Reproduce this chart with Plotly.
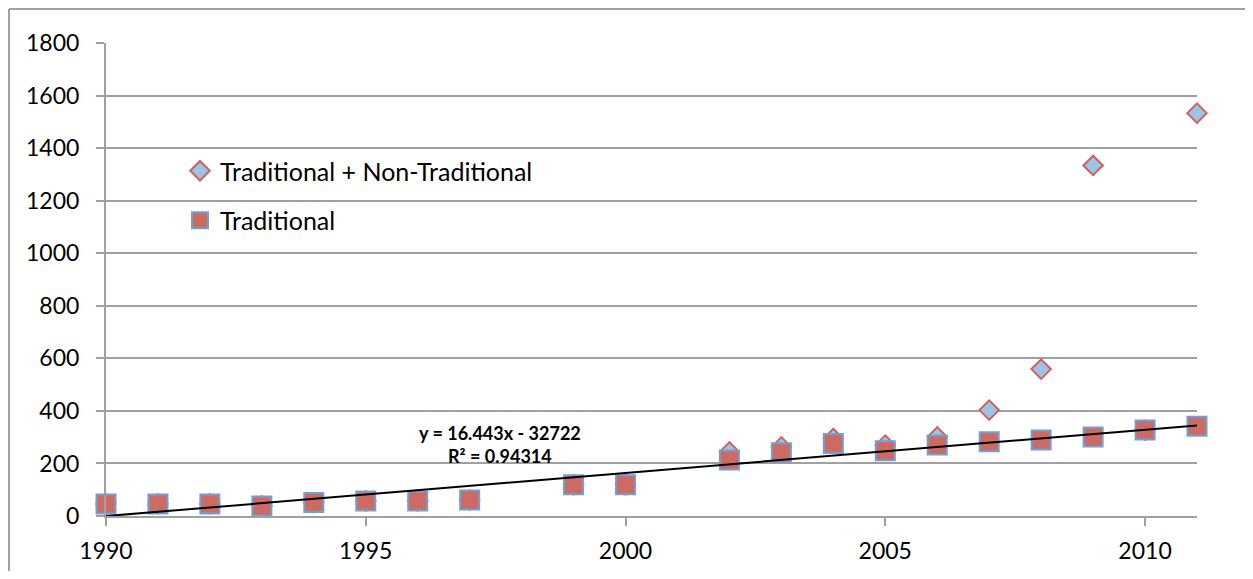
import plotly.graph_objects as go

years = [1990, 1991, 1992, 1993, 1994, 1995, 1996, 1997, 1999, 2000,
         2002, 2003, 2004, 2005, 2006, 2007, 2008, 2009, 2010, 2011]
traditional = [46, 46, 46, 38, 51, 57, 57, 61, 119, 119,
               213, 241, 276, 248, 270, 283, 289, 301, 327, 342]
trad_plus_non = [46, 46, 46, 38, 51, 57, 57, 61, 119, 119,
                 244, 263, 295, 270, 301, 403, 559, 1334, 327, 1533]
slope = 16.443
intercept = -32722
r_squared = 0.94314
y_ticks = [0, 200, 400, 600, 800, 1000, 1200, 1400, 1600, 1800]
x_ticks = [1990, 1995, 2000, 2005, 2010]

FONT = "Lato"
trend_x = [years[0], years[-1]]
trend_y = [slope * x + intercept for x in trend_x]

W, H = 1237, 563
L, R, T, B = 98, 48, 35, 55
PW, PH = W - L - R, H - T - B

fig = go.Figure()
fig.add_trace(go.Scatter(
    x=years, y=trad_plus_non, mode="markers", name="Traditional + Non-Traditional",
    legendgroup="a", cliponaxis=False,
    marker=dict(symbol="diamond", size=15, color="#9DC3E6",
                line=dict(color="#D0605A", width=2)),
))
fig.add_trace(go.Scatter(
    x=years, y=traditional, mode="markers", name="Traditional",
    legendgroup="b", cliponaxis=False,
    marker=dict(symbol="square", size=19, color="#CD6A62",
                line=dict(color="#6FA0D6", width=2)),
))
fig.add_trace(go.Scatter(
    x=trend_x, y=trend_y, mode="lines", showlegend=False, cliponaxis=False,
    line=dict(color="black", width=2), hoverinfo="skip",
))

fig.add_annotation(
    x=1997.58, y=274, xref="x", yref="y", showarrow=False,
    text=f"<b>y = {slope}x - {abs(intercept)}</b><br><b>R² = {r_squared}</b>",
    font=dict(family=FONT, size=18, color="black"), align="center",
)

# outer chart border (top and left edges visible)
bx = (1 - L) / PW
by = (PH + T - 1) / PH
fig.add_shape(type="line", xref="paper", yref="paper",
              x0=bx, x1=1.2, y0=by, y1=by,
              line=dict(color="#A0A0A0", width=2))
fig.add_shape(type="line", xref="paper", yref="paper",
              x0=bx, x1=bx, y0=by, y1=-0.2,
              line=dict(color="#A0A0A0", width=2))

fig.update_layout(
    width=W, height=H,
    margin=dict(l=L, r=R, t=T, b=B, autoexpand=False),
    paper_bgcolor="white", plot_bgcolor="white",
    font=dict(family=FONT, size=23, color="black"),
    showlegend=True,
    legend=dict(x=(172 - L) / PW, y=(PH + T - 140) / PH, xanchor="left", yanchor="top",
                bgcolor="rgba(0,0,0,0)", font=dict(family=FONT, size=25),
                itemsizing="trace", tracegroupgap=14, itemwidth=30),
    xaxis=dict(range=[1990, 2011], tickvals=x_ticks, showgrid=False,
               showline=True, linecolor="#A0A0A0", linewidth=2,
               ticks="outside", ticklen=8, tickcolor="#A0A0A0", tickwidth=2,
               ticklabelstandoff=5, automargin=False,
               zeroline=False, tickfont=dict(family=FONT, size=23)),
    yaxis=dict(range=[0, 1800], tickvals=y_ticks, showgrid=True,
               gridcolor="#A0A0A0", gridwidth=2,
               showline=True, linecolor="#A0A0A0", linewidth=2,
               ticks="outside", ticklen=8, tickcolor="#A0A0A0", tickwidth=2,
               ticklabelstandoff=12, automargin=False,
               zeroline=False, tickfont=dict(family=FONT, size=23)),
)

fig.write_html("out.html")
